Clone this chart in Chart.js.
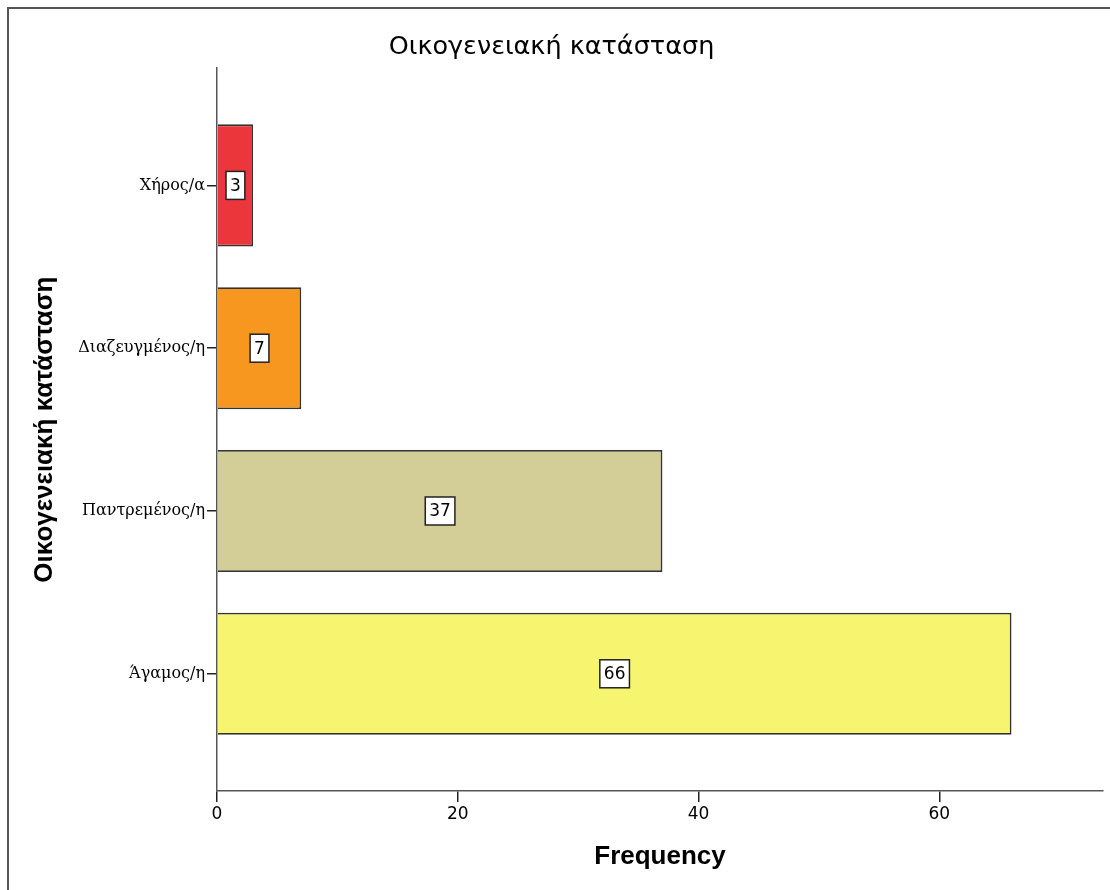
<!DOCTYPE html>
<html>
<head>
<meta charset="utf-8">
<script src="https://cdn.jsdelivr.net/npm/chart.js@4"></script>
<style>body{margin:0;background:#fff}</style>
</head>
<body>
<canvas id="myChart" width="1110" height="890"></canvas>
<script>
let categories = ['Άγαμος/η', 'Παντρεμένος/η', 'Διαζευγμένος/η', 'Χήρος/α'];
let counts = [66, 37, 7, 3];
let colorHex = ['#F7F56F', '#D3CE97', '#F7971F', '#EB373C'];
let freqTicks = [0, 20, 40, 60];

// white background + the thin frame around the whole picture
const frame = {
  id: 'frame',
  beforeDraw(chart) {
    const c = chart.ctx;
    c.save();
    c.fillStyle = '#fff';
    c.fillRect(0, 0, chart.width, chart.height);
    c.strokeStyle = '#555';
    c.lineWidth = 2;
    c.strokeRect(8, 8, chart.width + 20, chart.height + 20);
    c.restore();
  }
};

// boxed value labels in the middle of each bar
const barLabels = {
  id: 'barLabels',
  afterDatasetsDraw(chart) {
    const c = chart.ctx;
    const meta = chart.getDatasetMeta(0);
    c.save();
    c.font = '17px "DejaVu Sans"';
    c.textAlign = 'center';
    c.textBaseline = 'middle';
    meta.data.forEach((bar, i) => {
      const txt = String(counts[i]);
      const cx = (bar.x + bar.base) / 2;
      const w = c.measureText(txt).width + 8;
      const h = 28;
      c.fillStyle = '#fff';
      c.fillRect(cx - w / 2, bar.y - h / 2, w, h);
      c.strokeStyle = '#222';
      c.lineWidth = 1.5;
      c.strokeRect(cx - w / 2, bar.y - h / 2, w, h);
      c.fillStyle = '#000';
      c.fillText(txt, cx, bar.y + 1);
    });
    c.restore();
  }
};

let ctx = document.getElementById('myChart').getContext('2d');

let myChart = new Chart(ctx, {
  type: 'bar',
  data: {
    datasets: [{
      data: categories.map((c, i) => ({ x: counts[i], y: i })),
      backgroundColor: colorHex,
      borderColor: '#333',
      borderWidth: 1.8,
      barPercentage: 0.75,
      categoryPercentage: 1
    }]
  },
  options: {
    indexAxis: 'y',
    responsive: false,
    animation: false,
    layout: {
      padding: { left: 0, right: 7, top: 0, bottom: 0 }
    },
    plugins: {
      legend: { display: false },
      tooltip: { enabled: false },
      title: {
        display: true,
        text: 'Οικογενειακή κατάσταση',
        color: '#000',
        font: { family: 'DejaVu Sans', size: 25.5, weight: 'normal' },
        padding: { top: 32, bottom: 5.6 }
      }
    },
    scales: {
      x: {
        type: 'linear',
        min: 0,
        max: 73.6,
        afterBuildTicks: (scale) => {
          scale.ticks = freqTicks.map(v => ({ value: v }));
        },
        afterFit: (scale) => {
          scale.height = 99;
        },
        grid: {
          drawOnChartArea: false,
          drawTicks: true,
          tickLength: 11,
          color: '#222',
          lineWidth: 1.5
        },
        border: { display: true, color: '#555', width: 1.5 },
        ticks: {
          color: '#000',
          padding: 2,
          font: { family: 'DejaVu Sans', size: 17 }
        },
        title: {
          display: true,
          text: 'Frequency',
          color: '#000',
          font: { family: 'Liberation Sans', size: 26, weight: 'bold' },
          padding: { top: 0, bottom: 18 }
        }
      },
      y: {
        type: 'linear',
        min: -0.72,
        max: 3.72,
        offset: false,
        afterBuildTicks: (scale) => {
          scale.ticks = categories.map((c, i) => ({ value: i }));
        },
        afterFit: (scale) => {
          scale.width = 217;
        },
        grid: {
          offset: false,
          drawOnChartArea: false,
          drawTicks: true,
          tickLength: 10,
          color: '#222',
          lineWidth: 1.5
        },
        border: { display: true, color: '#555', width: 1.5 },
        ticks: {
          color: '#000',
          padding: 2,
          font: { family: 'DejaVu Serif', size: 16 },
          callback: (value) => categories[value]
        },
        title: {
          display: true,
          text: 'Οικογενειακή κατάσταση',
          color: '#000',
          font: { family: 'Liberation Sans', size: 26, weight: 'bold' },
          padding: { top: 29, bottom: 0 }
        }
      }
    }
  },
  plugins: [frame, barLabels]
});
</script>
</body>
</html>
